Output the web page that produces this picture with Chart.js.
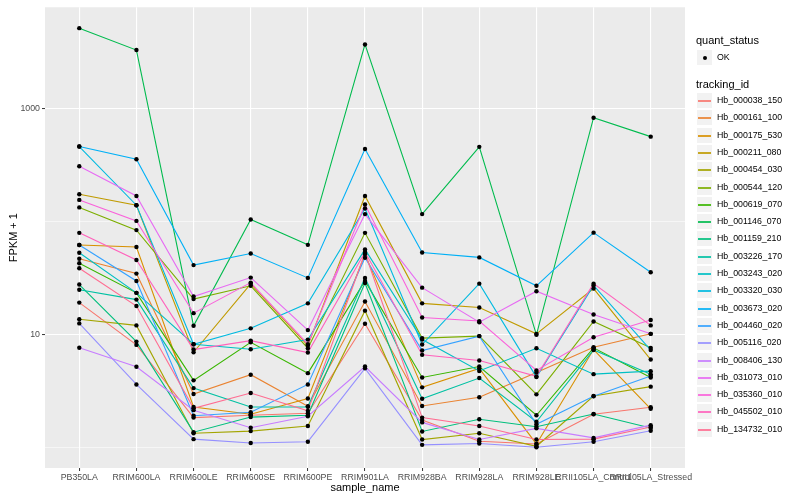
<!DOCTYPE html>
<html><head><meta charset="utf-8">
<script src="https://cdn.jsdelivr.net/npm/chart.js@4.4.0/dist/chart.umd.min.js"></script>
<style>
html,body{margin:0;padding:0;background:#fff;}
#wrap{position:relative;width:800px;height:500px;font-family:"Liberation Sans",Arial,Helvetica,sans-serif;}
canvas{position:absolute;left:0;top:0;}
.lg{position:absolute;white-space:nowrap;}
.ttl{font-size:11px;color:#000;line-height:13px;}
.lab{font-size:8.8px;color:#000;line-height:11px;}
.key{position:absolute;background:#F2F2F2;border:1px solid #fff;box-sizing:border-box;}
</style></head>
<body><div id="wrap"><canvas id="c" width="800" height="500"></canvas><div id="legend"></div></div>
<script>
// ---- data (FPKM + 1) ----
const sampleNames = ["PB350LA","RRIM600LA","RRIM600LE","RRIM600SE","RRIM600PE","RRIM901LA","RRIM928BA","RRIM928LA","RRIM928LE","RRII105LA_Control","RRII105LA_Stressed"];
const trackingIds = ["Hb_000038_150","Hb_000161_100","Hb_000175_530","Hb_000211_080","Hb_000454_030","Hb_000544_120","Hb_000619_070","Hb_001146_070","Hb_001159_210","Hb_003226_170","Hb_003243_020","Hb_003320_030","Hb_003673_020","Hb_004460_020","Hb_005116_020","Hb_008406_130","Hb_031073_010","Hb_035360_010","Hb_045502_010","Hb_134732_010"];
const seriesColors = ["#F8766D","#EA8331","#D89000","#C09B00","#A3A500","#7CAE00","#39B600","#00BB4E","#00BF7D","#00C1A3","#00BFC4","#00BAE0","#00B0F6","#35A2FF","#9590FF","#C77CFF","#E76BF3","#FA62DB","#FF62BC","#FF6C91"];
const yTickValues = [1, 10, 100, 1000];
const yTickLabels = ["", "10", "", "1000"];
const quantStatus = ["OK"];

const hb000038_150 = [19.1, 8.06, 1.83, 1.92, 2.0, 12.4, 1.74, 1.13, 1.07, 1.96, 2.26];
const hb000161_100 = [46.7, 34.5, 2.96, 4.39, 2.31, 19.5, 2.32, 2.77, 4.6, 7.68, 10.1];
const hb000175_530 = [61.7, 59.3, 2.27, 1.96, 2.7, 51.1, 3.39, 4.99, 1.07, 7.33, 2.19];
const hb000211_080 = [174, 139, 6.94, 28.0, 7.95, 168, 18.8, 17.3, 10.1, 25.4, 5.98];
const hb000454_030 = [13.6, 12.0, 1.33, 1.39, 1.54, 16.2, 1.17, 1.33, 1.02, 2.84, 3.44];
const hb000544_120 = [133, 83.7, 20.5, 26.9, 7.53, 79.2, 9.26, 9.64, 2.94, 13.0, 7.59];
const hb000619_070 = [42.6, 23.3, 3.91, 8.5, 4.53, 29.7, 4.15, 5.19, 1.92, 7.59, 4.15];
const hb001146_070 = [5140, 3290, 11.9, 104, 62, 3690, 116, 457, 9.9, 828, 563];
const hb001159_210 = [27.6, 8.62, 1.36, 1.85, 1.92, 28.5, 1.38, 1.77, 1.52, 1.97, 1.48];
const hb003226_170 = [24.8, 20.3, 3.34, 2.27, 2.28, 31.6, 2.69, 4.1, 1.68, 7.26, 4.42];
const hb003243_020 = [52.8, 23.3, 8.17, 7.38, 8.98, 56.5, 8.98, 4.74, 7.53, 4.44, 4.72];
const hb003320_030 = [460, 139, 8.17, 11.3, 18.8, 130, 8.12, 28.1, 4.18, 27.1, 7.26];
const hb003673_020 = [460, 355, 41, 52, 31.6, 437, 53, 48, 26.9, 79.5, 35.5];
const hb004460_020 = [61.7, 29.7, 1.9, 2.04, 3.6, 47.7, 7.18, 9.64, 1.6, 2.83, 4.28];
const hb005116_020 = [12.5, 3.6, 1.18, 1.09, 1.12, 5.0, 1.05, 1.08, 1.0, 1.12, 1.40];
const hb008406_130 = [7.6, 5.16, 2.13, 1.49, 1.88, 5.19, 1.66, 1.17, 1.47, 1.21, 1.57];
const hb031073_010 = [308, 168, 21.6, 31.8, 10.9, 116, 25.9, 12.8, 24.1, 15.0, 10.1];
const hb035360_010 = [155, 101, 15.4, 28.7, 8.17, 141, 14.1, 13.1, 4.79, 9.41, 13.4];
const hb045502_010 = [79.2, 45.5, 7.33, 8.8, 6.9, 53.5, 6.58, 5.87, 4.24, 28.1, 12.0];
const hb134732_010 = [38.5, 17.8, 2.21, 3.02, 2.1, 52.5, 1.83, 1.54, 1.17, 1.18, 1.51];

const seriesValues = [hb000038_150,hb000161_100,hb000175_530,hb000211_080,hb000454_030,hb000544_120,hb000619_070,hb001146_070,hb001159_210,hb003226_170,hb003243_020,hb003320_030,hb003673_020,hb004460_020,hb005116_020,hb008406_130,hb031073_010,hb035360_010,hb045502_010,hb134732_010];

// ---- datasets ----
const pointData = [];
seriesValues.forEach(vals => vals.forEach((v, i) => pointData.push({x: i, y: v})));
const datasets = [{
  label: 'points', data: pointData, showLine: false, pointRadius: 2.2, pointHoverRadius: 2.2,
  pointBackgroundColor: '#000', pointBorderWidth: 0, borderColor: '#000'
}];
for (let s = seriesValues.length - 1; s >= 0; s--) {
  datasets.push({
    label: trackingIds[s],
    data: seriesValues[s].map((v, i) => ({x: i, y: v})),
    borderColor: seriesColors[s], borderWidth: 1.1, pointRadius: 0, tension: 0, fill: false
  });
}

const FONT = '"Liberation Sans", Arial, Helvetica, sans-serif';
Chart.defaults.font.family = FONT;

const bgPlugin = {
  id: 'bg',
  beforeDraw(chart) {
    const {ctx, chartArea: a} = chart;
    ctx.save();
    ctx.fillStyle = '#fff';
    ctx.fillRect(0, 0, chart.width, chart.height);
    ctx.fillStyle = '#EBEBEB';
    ctx.fillRect(a.left, a.top, a.right - a.left, a.bottom - a.top);
    ctx.restore();
  }
};

new Chart(document.getElementById('c'), {
  type: 'line',
  data: {datasets},
  plugins: [bgPlugin],
  options: {
    responsive: false, animation: false, devicePixelRatio: 1,
    layout: {padding: {top: 5, right: 115, left: 0, bottom: 0}},
    plugins: {legend: {display: false}, tooltip: {enabled: false}},
    events: [],
    scales: {
      x: {
        type: 'linear', min: -0.6, max: 10.6,
        afterBuildTicks: (ax) => { ax.ticks = sampleNames.map((_, i) => ({value: i})); },
        afterFit: (ax) => { ax.height = 32; },
        ticks: {
          autoSkip: false, maxRotation: 0, minRotation: 0, padding: 1,
          color: '#4D4D4D', font: {size: 8.8, family: FONT},
          callback: (v) => sampleNames[v] ?? ''
        },
        grid: {color: '#FFFFFF', lineWidth: 1.1, tickColor: '#333333', tickLength: 3, tickWidth: 1},
        border: {display: false},
        title: {display: true, text: 'sample_name', color: '#000', font: {size: 11, family: FONT}, padding: {top: 0, bottom: 5}}
      },
      y: {
        type: 'logarithmic', min: 0.655, max: 7870,
        afterBuildTicks: (ax) => { ax.ticks = yTickValues.map(v => ({value: v})); },
        afterFit: (ax) => { ax.width = 45; },
        ticks: {
          padding: 2, color: '#4D4D4D', font: {size: 8.8, family: FONT},
          callback: (v) => { const k = yTickValues.indexOf(v); return k >= 0 ? yTickLabels[k] : ''; }
        },
        grid: {
          color: '#FFFFFF',
          lineWidth: (ctx) => (ctx.tick && (ctx.tick.value === 10 || ctx.tick.value === 1000)) ? 1.1 : 0.55,
          tickColor: (ctx) => (ctx.tick && (ctx.tick.value === 10 || ctx.tick.value === 1000)) ? '#333333' : 'rgba(0,0,0,0)',
          tickLength: 3, tickWidth: 1
        },
        border: {display: false},
        title: {display: true, text: 'FPKM + 1', color: '#000', font: {size: 11, family: FONT}, padding: {top: 7, bottom: 0}}
      }
    }
  }
});

// ---- legend (HTML text) ----
const lg = document.getElementById('legend');
function addEl(cls, text, left, top, extra) {
  const d = document.createElement('div');
  d.className = cls;
  if (text !== null) d.textContent = text;
  d.style.left = left + 'px'; d.style.top = top + 'px';
  if (extra) Object.assign(d.style, extra);
  lg.appendChild(d);
  return d;
}
const KEY = 17.3, KX = 696;
addEl('lg ttl', 'quant_status', 696, 34);
const k0 = addEl('key', null, KX, 49, {width: '17px', height: '17px'});
const dot = document.createElement('div');
Object.assign(dot.style, {position: 'absolute', left: '6px', top: '6px', width: '4px', height: '4px', borderRadius: '50%', background: '#000'});
k0.appendChild(dot);
addEl('lg lab', quantStatus[0], 717, 52);
addEl('lg ttl', 'tracking_id', 696, 77.5);
trackingIds.forEach((id, i) => {
  const top = Math.round(92 + KEY * i);
  const k = addEl('key', null, KX, top, {width: '17px', height: '17px'});
  const ln = document.createElement('div');
  Object.assign(ln.style, {position: 'absolute', left: '1px', top: '7px', width: '13px', height: '2px', background: seriesColors[i], opacity: '0.85'});
  k.appendChild(ln);
  addEl('lg lab', id, 717, top + 3);
});
</script></body></html>
